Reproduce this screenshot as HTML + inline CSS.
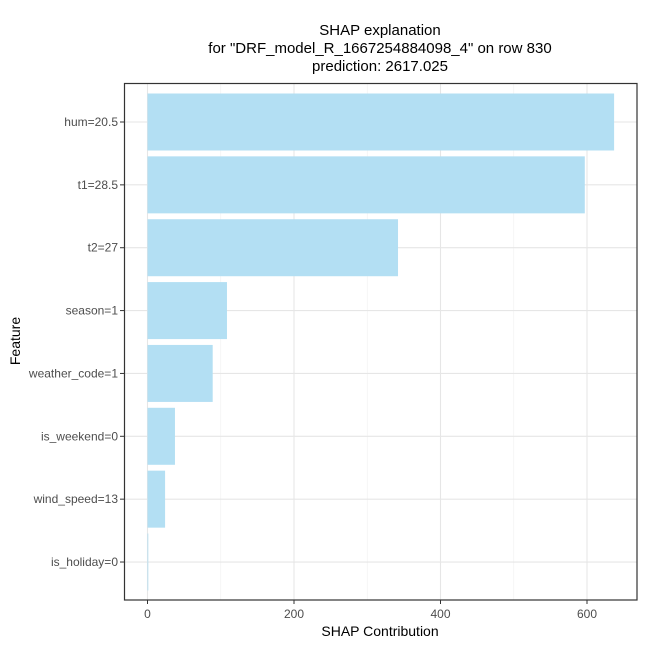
<!DOCTYPE html>
<html><head><meta charset="utf-8"><style>
body{margin:0;background:#fff}
svg{display:block;font-family:"Liberation Sans",Arial,sans-serif}
</style></head><body>
<svg id="c" width="645" height="645">
<rect width="645" height="645" fill="#fff"/>
<g font-size="15" fill="#000" text-anchor="middle">
<text x="380" y="35">SHAP explanation</text>
<text x="380" y="53">for "DRF_model_R_1667254884098_4" on row 830</text>
<text x="380" y="71">prediction: 2617.025</text>
</g>
<g id="grid"></g><g id="bars"></g><g id="axes"></g>
<rect x="124.5" y="83.5" width="512.5" height="516.5" fill="none" stroke="#333" stroke-width="1.2"/>
<text x="380" y="636" font-size="14" text-anchor="middle">SHAP Contribution</text>
<text transform="translate(20,341) rotate(-90)" font-size="14" text-anchor="middle">Feature</text>
</svg>
<script>
const features=["hum=20.5","t1=28.5","t2=27","season=1","weather_code=1","is_weekend=0","wind_speed=13","is_holiday=0"];
const values=[637,597,342,108.5,89,37.5,24,0];
const xTicks=[0,200,400,600];
const minorTicks=[100,300,500];
const ns="http://www.w3.org/2000/svg";
const x=v=>147.5+v*0.7325;
const y=i=>122+i*62.86;
function mk(t,a,p){const e=document.createElementNS(ns,t);for(const k in a)e.setAttribute(k,a[k]);document.getElementById(p).appendChild(e);return e;}
minorTicks.forEach(v=>{const l=mk('line',{x1:x(v),x2:x(v),y1:84,y2:600,stroke:'#f0f0f0','stroke-width':0.6},'grid');

});
xTicks.forEach(v=>{const l=mk('line',{x1:x(v),x2:x(v),y1:84,y2:600,stroke:'#e6e6e6','stroke-width':1.1},'grid');


const t=mk('line',{x1:x(v),x2:x(v),y1:600,y2:604,stroke:'#333'},'axes');


const tx=mk('text',{x:x(v),y:618,'font-size':12,fill:'#4d4d4d','text-anchor':'middle'},'axes');tx.textContent=v;

});
features.forEach((f,i)=>{const g=mk('line',{x1:125,x2:637,y1:y(i),y2:y(i),stroke:'#e6e6e6','stroke-width':1.1},'grid');


const b=mk('rect',{x:x(0),y:y(i)-28.5,width:Math.max(x(values[i])-x(0),0.8),height:57,fill:'#b3dff3'},'bars');


const t=mk('line',{x1:120,x2:124,y1:y(i),y2:y(i),stroke:'#333'},'axes');


const tx=mk('text',{x:118,y:y(i)+4,'font-size':12,fill:'#4d4d4d','text-anchor':'end'},'axes');tx.textContent=f;

});
</script>
</body></html>
